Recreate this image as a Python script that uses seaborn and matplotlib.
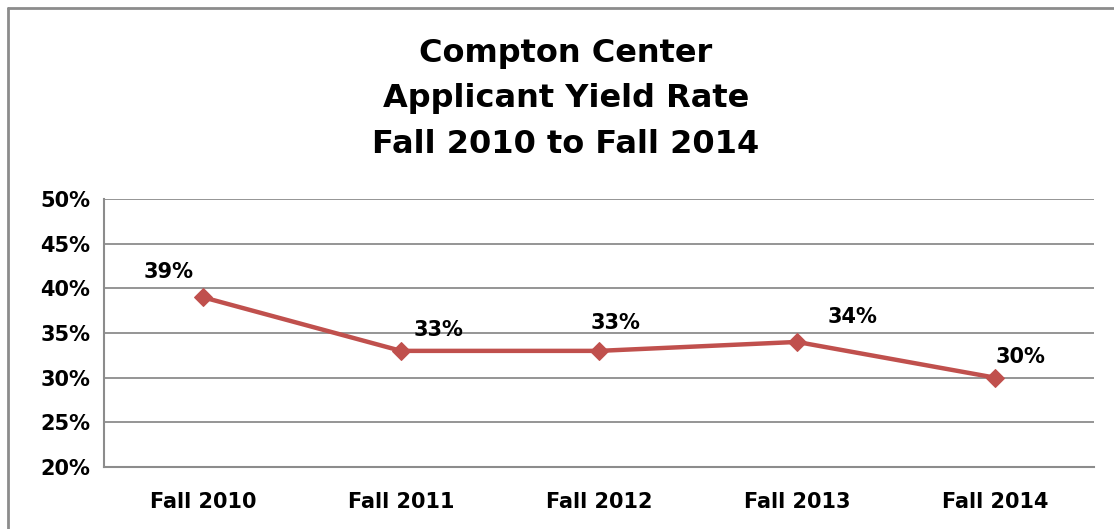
import matplotlib
matplotlib.use("Agg")
import matplotlib.pyplot as plt
import seaborn as sns
import pandas as pd
from matplotlib.lines import Line2D
from matplotlib.ticker import FuncFormatter

# data
terms = ["Fall 2010", "Fall 2011", "Fall 2012", "Fall 2013", "Fall 2014"]
yield_rate = [39, 33, 33, 34, 30]
# label offsets in points (dx, dy) relative to each marker
label_offsets = [(-25, 18), (27, 15), (12, 20), (40, 18), (18, 15)]

df = pd.DataFrame({"Term": terms, "Yield": yield_rate})

sns.set_theme(style="white")
plt.rcParams["font.family"] = ["DejaVu Sans"]
plt.rcParams["text.color"] = "black"
plt.rcParams["xtick.color"] = "black"
plt.rcParams["ytick.color"] = "black"

fig = plt.figure(figsize=(11.14, 5.29), dpi=100)
ax = fig.add_axes([0.0934, 0.1172, 0.8887, 0.5066])

line_color = "#C0504D"
sns.lineplot(data=df, x="Term", y="Yield", ax=ax, color=line_color, linewidth=3.2,
             marker="D", markersize=9, markeredgecolor=line_color, sort=False)

ax.set_ylim(20, 50)
ax.set_xlim(-0.5, len(terms) - 0.5)
ax.set_yticks(range(20, 51, 5))
ax.yaxis.set_major_formatter(FuncFormatter(lambda v, _: f"{int(v)}%"))
ax.grid(axis="y", color="#8C8C8C", linewidth=1.3)
ax.set_axisbelow(True)
for side in ["top", "right"]:
    ax.spines[side].set_visible(False)
for side in ["left", "bottom"]:
    ax.spines[side].set_color("#8C8C8C")
    ax.spines[side].set_linewidth(1.5)
ax.tick_params(axis="both", length=0, labelsize=15, pad=10)
ax.tick_params(axis="x", pad=18)
for lbl in ax.get_xticklabels() + ax.get_yticklabels():
    lbl.set_fontweight("bold")
ax.set_xlabel("")
ax.set_ylabel("")

for i, (val, off) in enumerate(zip(yield_rate, label_offsets)):
    ax.annotate(f"{val}%", (i, val), xytext=off, textcoords="offset points",
                ha="center", va="center", fontsize=15, fontweight="bold", color="black")

fig.text(0.508, 0.813, "Compton Center\nApplicant Yield Rate\nFall 2010 to Fall 2014",
         ha="center", va="center", fontsize=23, fontweight="bold", linespacing=1.6,
         color="black")

# outer chart border (only top and left edges show in the crop)
fig.add_artist(Line2D([0.0072, 1.0], [0.985, 0.985], color="#8C8C8C", linewidth=2))
fig.add_artist(Line2D([0.0072, 0.0072], [0.0, 0.985], color="#8C8C8C", linewidth=2))

fig.savefig("out.png", dpi=100)
